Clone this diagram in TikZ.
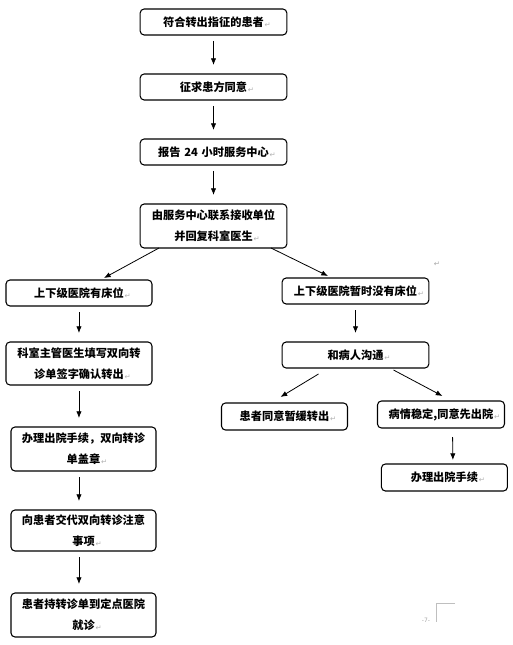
\documentclass[tikz,border=0pt]{standalone}
\usepackage{fontspec}
\newfontfamily\cjk{Noto Sans CJK SC}
\newfontfamily\dejavu{DejaVu Sans}
\usetikzlibrary{arrows.meta,positioning,calc}
\newcommand\retmark{\rlap{\kern0.6pt\raisebox{-0.8pt}{\dejavu\mdseries\fontsize{5.5}{6}\selectfont\textcolor{gray!60}{↵}}}}
\tikzset{
  box/.style={draw=black,line width=0.8pt,rounded corners=3pt,align=center,
              minimum height=19.5pt,text width=106pt,inner sep=2pt,outer sep=0pt,
              font=\cjk\bfseries\fontsize{8.4}{15.5}\selectfont},
  flow/.style={-{Latex[length=5pt,width=4pt]},line width=0.6pt,
               shorten <=4.5pt,shorten >=6.75pt},
  slant/.style={-{Latex[length=5pt,width=4pt]},line width=0.6pt},
  pagenote/.style={font=\dejavu\fontsize{4.5}{5}\selectfont,text=gray!70,inner sep=0pt}
}
\begin{document}
\begin{tikzpicture}[x=0.75pt,y=-0.75pt]
  \useasboundingbox (0,0) rectangle (513,645);
  % main chain
  \node[box] (patient) at (213.5,22) {符合转出指征的患者\retmark};
  \node[box,below=29.25pt of patient] (consent) {征求患方同意\retmark};
  \node[box,below=29.25pt of consent] (report) {报告 24 小时服务中心\retmark};
  \node[box,below=29.25pt of report,minimum height=33pt] (contact) {由服务中心联系接收单位\\并回复科室医生\retmark};
  % left branch
  \node[box,below=24pt of contact,xshift=-100.9pt,text width=105.5pt] (hasbed) {上下级医院有床位\retmark};
  \node[box,below=27pt of hasbed,minimum height=32.25pt,text width=105.5pt] (fillform) {科室主管医生填写双向转\\诊单签字确认转出\retmark};
  \node[box,below=31.5pt of fillform,xshift=3.4pt,minimum height=33pt,text width=104.75pt] (discharge) {办理出院手续，双向转诊\\单盖章\retmark};
  \node[box,below=29.25pt of discharge,minimum height=30.75pt,text width=104.75pt] (explain) {向患者交代双向转诊注意\\事项\retmark};
  \node[box,below=31.5pt of explain,minimum height=33pt,text width=104.75pt] (visit) {患者持转诊单到定点医院\\就诊\retmark};
  % right branch
  \node[box,below=22.5pt of contact,xshift=106.5pt] (nobed) {上下级医院暂时没有床位\retmark};
  \node[box,below=28.5pt of nobed] (talk) {和病人沟通\retmark};
  \node[box,below=26.25pt of talk,xshift=-53.25pt,text width=90.5pt,minimum height=20.25pt] (delay) {患者同意暂缓转出\retmark};
  \node[box,below=24.75pt of talk,xshift=64.1pt,text width=91.25pt,minimum height=20.25pt] (stable) {病情稳定,同意先出院\retmark};
  \node[box,below=27pt of stable,xshift=2.6pt,text width=90.5pt,minimum height=20.25pt] (leave) {办理出院手续\retmark};

  \draw[flow] (patient) -- (consent);
  \draw[flow] (consent) -- (report);
  \draw[flow] (report) -- (contact);
  \draw[slant] ($(contact.south)+(-54.5,0)$) -- ($(hasbed.north)+(25,-2)$);
  \draw[slant] ($(contact.south)+(57.5,0)$) -- ($(nobed.north)+(-27.5,-2)$);
  \draw[flow] (hasbed) -- (fillform);
  \draw[flow] (fillform.south) -- (fillform.south |- discharge.north);
  \draw[flow] (discharge.south -| fillform) -- (explain.north -| fillform);
  \draw[flow] (explain.south -| fillform) -- (visit.north -| fillform);
  \draw[flow] (nobed) -- (talk);
  \draw[slant] ($(talk.south)+(-37,6)$) -- ($(delay.north)+(-4,-6)$);
  \draw[slant] ($(talk.south)+(38,2)$) -- ($(stable.north)+(1.5,-5)$);
  \draw[flow,shorten <=6.75pt,shorten >=3pt] ($(stable.south)+(11.5,0)$) -- ($(leave.north)+(8.5,0)$);

  % page marks
  \node[pagenote,font=\dejavu\fontsize{5.5}{6}\selectfont] (stray) at (437,264) {↵};
  \node[pagenote] (pagenum) at (426,620) {-7-};
  \draw[gray!50,line width=0.6pt] (455,603) -| (436,622);
\end{tikzpicture}
\end{document}
